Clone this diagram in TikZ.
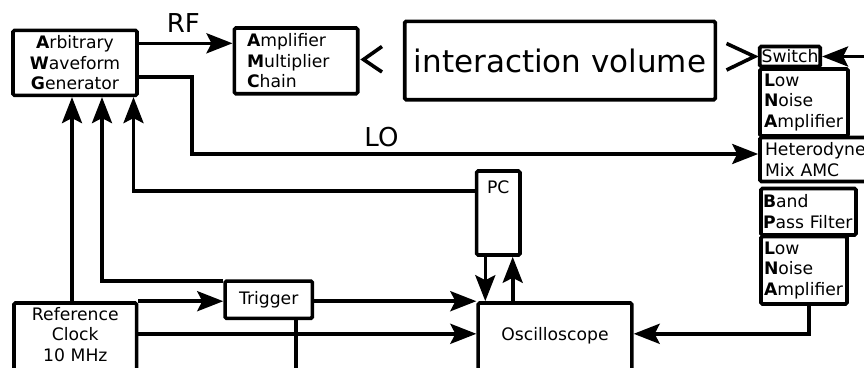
\documentclass[tikz,border=0pt]{standalone}
\usepackage{fontspec}
\setmainfont{DejaVu Sans}
\usetikzlibrary{arrows.meta}
\begin{document}
\begin{tikzpicture}[x=1pt,y=-1pt,
  box/.style={draw, line width=3.6pt, rounded corners=1.5pt, inner sep=0pt,
    font=\fontsize{17.2}{20.7}\selectfont},
  conn/.style={line width=3.6pt},
  arr/.style={conn, -{Stealth[length=26pt,width=20pt,inset=5pt]}},
  lbl/.style={anchor=base, inner sep=0pt, font=\fontsize{26}{30}\selectfont},
]
\useasboundingbox (0,0) rectangle (864,367);
\clip (0,0) rectangle (864,367);

% boxes
\node[box, minimum width=124pt, minimum height=65pt, align=center] (awg) at (75,62.8)
  {\textbf{A}rbitrary\\\textbf{W}aveform\\\textbf{G}enerator};
\node[box, minimum width=123.4pt, minimum height=65.7pt, text width=98pt, align=left] (amc) at (296,60.85)
  {\textbf{A}mplifier\\\textbf{M}ultiplier\\\textbf{C}hain};
\node[box, minimum width=310.6pt, minimum height=78.4pt, font=\fontsize{31}{37}\selectfont] (iv) at (560,60.5)
  {interaction volume};
\node[box, minimum width=60.5pt, minimum height=20pt] (sw) at (790,56.5) {Switch};
\node[box, minimum width=88pt, minimum height=67pt, text width=80pt, align=left] (lna1) at (804,102.5)
  {\textbf{L}ow\\\textbf{N}oise\\\textbf{A}mplifier};
\node[box, minimum width=160pt, minimum height=44pt, text width=150pt, align=left] (het) at (840,159.5)
  {Heterodyne\\Mix AMC};
\node[box, minimum width=95pt, minimum height=46.5pt, text width=91pt, align=left] (bpf) at (808.5,211.75)
  {\textbf{B}and\\\textbf{P}ass Filter};
\node[box, minimum width=86pt, minimum height=67.5pt, text width=80pt, align=left] (lna2) at (804,270.25)
  {\textbf{L}ow\\\textbf{N}oise\\\textbf{A}mplifier};
\node[box, minimum width=43.3pt, text height=22pt, text depth=62pt, anchor=north] (pc) at (498.3,169.2) {PC};
\node[box, minimum width=153.7pt, text height=37pt, text depth=90pt, anchor=north] (osc) at (555,301.2) {Oscilloscope};
\node[box, minimum width=122.7pt, text width=112pt, align=center, text height=17pt, text depth=80pt, anchor=north] (ref) at (75.3,301.2)
  {Reference\\Clock\\10 MHz};
\node[box, minimum width=87.3pt, minimum height=37.3pt] (trig) at (268.7,299.7) {Trigger};

% labels
\node[lbl] (rf) at (183.3,32.3) {RF};
\node[lbl] (lo) at (381.5,146.5) {LO};

% helper coordinates
\coordinate (rfrow) at (0,43.3);
\coordinate (lorow) at (0,77);
\coordinate (lobend) at (192,154);
\coordinate (c1) at (72,0);
\coordinate (c2) at (102,0);
\coordinate (c3) at (133.5,0);
\coordinate (pcrow) at (0,191);
\coordinate (midrow) at (0,333.8);
\coordinate (trigout) at (296,400);
\coordinate (pcd) at (485.3,0);
\coordinate (pcu) at (512.7,0);
\coordinate (lnaout) at (809,333.8);
\coordinate (swin) at (890,56.5);

% connectors
\draw[arr] (awg.east |- rfrow) -- (amc.west |- rfrow);
\draw[arr] (awg.east |- lorow) -| (lobend) -- (het.west |- lobend);
\draw[arr] (ref.north -| c1) -- (awg.south -| c1);
\draw[arr] ([yshift=-1.8pt]trig.north west) -| (awg.south -| c2);
\draw[arr] (pc.west |- pcrow) -| (awg.south -| c3);
\draw[arr] (ref.north east) -- (trig.west |- ref.north east);
\draw[arr] (trig.east |- osc.north west) -- (osc.north west);
\draw[arr] (ref.east |- midrow) -- (osc.west |- midrow);
\draw[conn] (trig.south -| trigout) -- (trigout);
\draw[arr] (pc.south -| pcd) -- (osc.north -| pcd);
\draw[arr] (osc.north -| pcu) -- (pc.south -| pcu);
\draw[arr] (lna2.south -| lnaout) |- (osc.east |- lnaout);
\draw[arr] (swin) -- (sw.east);

% horn antennas
\draw[conn] (382,46.5) -- (363.5,59.5) -- (382,72);
\draw[conn] (726.5,43.5) -- (754.5,56.5) -- (726.5,70);
\end{tikzpicture}
\end{document}
